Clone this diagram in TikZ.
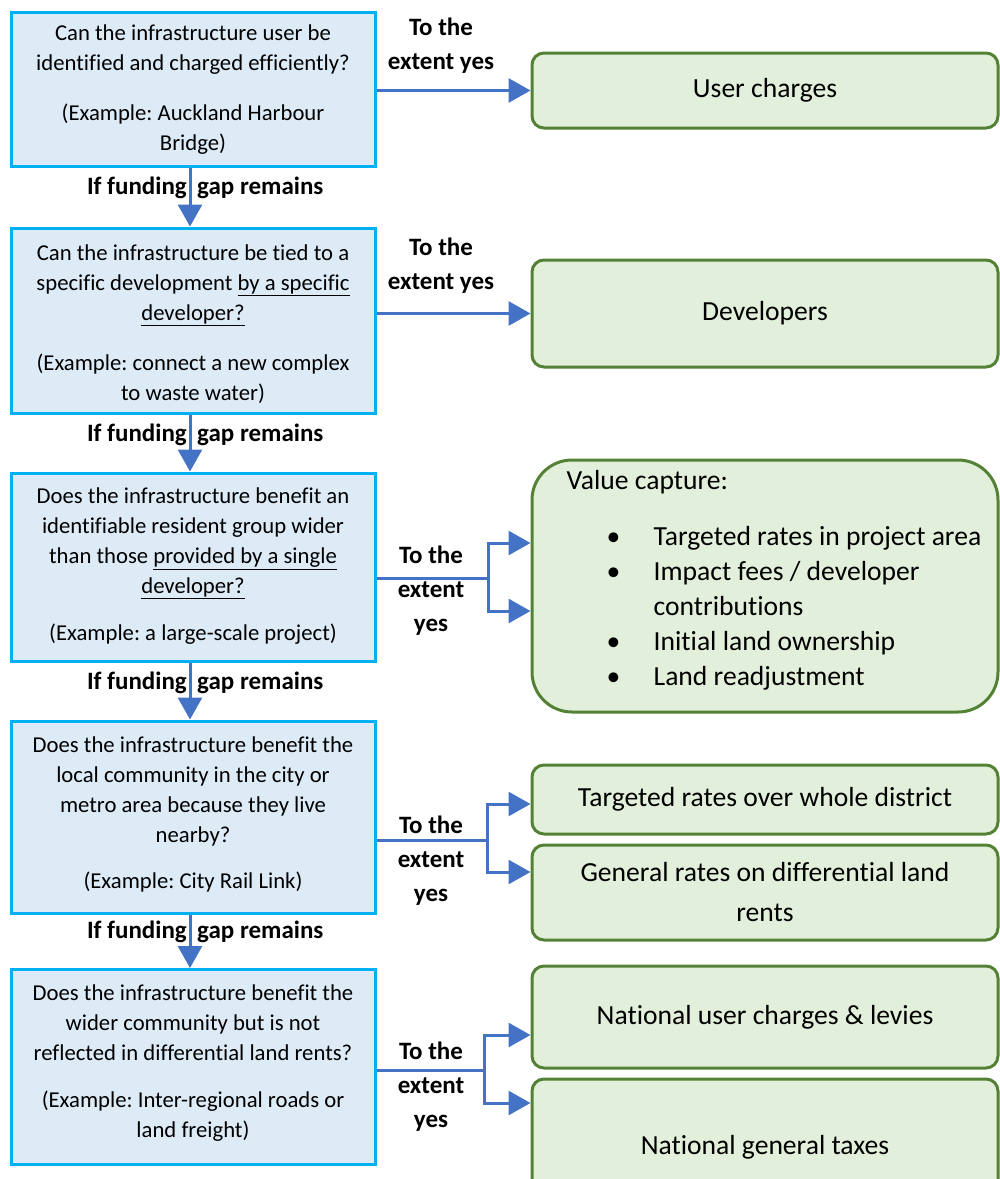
\documentclass[tikz,border=0pt]{standalone}
\usepackage{fontspec}
\setmainfont{Carlito}[Ligatures={NoCommon}]
\usetikzlibrary{arrows.meta}
\usetikzlibrary{positioning}
\frenchspacing

\definecolor{qblue}{HTML}{00B0F0}
\definecolor{qfill}{HTML}{DDEBF7}
\definecolor{agreen}{HTML}{538135}
\definecolor{afill}{HTML}{E2EFDA}
\definecolor{ablue}{HTML}{4472C4}

\newcommand\qfont{\fontsize{22.7}{30}\selectfont}
\newcommand\afont{\fontsize{27.6}{40}\selectfont}
\newcommand\vfont{\fontsize{27.6}{35}\selectfont}
\newcommand\lblfont{\bfseries\fontsize{25}{34}\selectfont}
\newcommand\vcitem[1]{\hspace*{40pt}\makebox[47pt][l]{\textbullet}#1}

\begin{document}
\begin{tikzpicture}[x=1pt,y=-1pt]
  \tikzset{qbox/.style={draw=qblue, fill=qfill, line width=3pt, minimum width=364pt, inner sep=0pt}}
  \tikzset{qtext/.style={align=center, font=\qfont, inner sep=0pt}}
  \tikzset{abox/.style={draw=agreen, fill=afill, line width=3pt, rounded corners=12pt, minimum width=466pt, align=center, font=\afont}}
  \tikzset{lbl/.style={align=center, font=\lblfont, inner sep=0pt}}
  \tikzset{line/.style={draw=ablue, line width=3pt}}
  \tikzset{arr/.style={draw=ablue, line width=3pt, -{Triangle[length=22pt,width=24pt]}}}

  \useasboundingbox (0,0) rectangle (1000,1179);

  % questions
  \node[qbox, minimum height=154pt] (q1) at (193,89) {};
  \node[qbox, minimum height=185pt] (q2) at (193,320.5) {};
  \node[qbox, minimum height=188pt] (q3) at (193,567) {};
  \node[qbox, minimum height=192pt] (q4) at (193,817) {};
  \node[qbox, minimum height=195pt] (q5) at (193,1067) {};

  \node[qtext, below=14pt of q1.north] (q1text) {Can the infrastructure user be\\
    identified and charged efficiently?\\[20pt]
    (Example: Auckland Harbour\\ Bridge)};
  \node[qtext, below=18pt of q2.north] (q2text) {Can the infrastructure be tied to a\\
    specific development \underline{by a specific}\\ \underline{developer?}\\[20pt]
    (Example: connect a new complex\\ to waste water)};
  \node[qtext, below=16pt of q3.north] (q3text) {Does the infrastructure benefit an\\
    identifiable resident group wider\\ than those \underline{provided by a single}\\
    \underline{developer?}\\[17pt]
    (Example: a large-scale project)};
  \node[qtext, below=17pt of q4.north] (q4text) {Does the infrastructure benefit the\\
    local community in the city or\\ metro area because they live\\ nearby?\\[16pt]
    (Example: City Rail Link)};
  \node[qtext, below=17pt of q5.north] (q5text) {Does the infrastructure benefit the\\
    wider community but is not\\ reflected in differential land rents?\\[17pt]
    (Example: Inter-regional roads or\\ land freight)};

  % answers
  \node[abox, minimum height=75pt] (r1) at (765,90.5) {User charges};
  \node[abox, minimum height=107pt] (r2) at (765,313.5) {Developers};
  \node[abox, minimum height=252pt, rounded corners=40pt] (r3) at (765,586) {};
  \node[align=left, font=\vfont, inner sep=0pt,
    below right=12pt and 36pt of r3.north west] (r3text) {Value capture:\\[21pt]
    \vcitem{Targeted rates in project area}\\
    \vcitem{Impact fees / developer}\\
    \hspace*{87pt}contributions\\
    \vcitem{Initial land ownership}\\
    \vcitem{Land readjustment}};
  \node[abox, minimum height=69pt] (r4a) at (765,799.5) {Targeted rates over whole district};
  \node[abox, minimum height=95pt] (r4b) at (765,892.5) {General rates on differential land\\ rents};
  \node[abox, minimum height=102pt] (r5a) at (765,1017) {National user charges \& levies};
  \node[abox, minimum height=136pt] (r5b) at (765,1147) {National general taxes};

  % down the chain
  \foreach \a/\b in {q1/q2,q2/q3,q3/q4,q4/q5}{
    \draw[arr] ([xshift=-3pt]\a.south) -- ([xshift=-3pt]\b.north);
  }
  \foreach \a/\y in {q1/194,q2/441,q3/689,q4/938}{
    \node[lbl, anchor=base east] (\a gapl) at (187,\y) {If funding};
    \node[lbl, anchor=base west] (\a gapr) at (197,\y) {gap remains};
  }

  % across
  \node[lbl] (y1) at (441,46) {To the\\ extent yes};
  \node[lbl] (y2) at (441,266) {To the\\ extent yes};
  \node[lbl] (y3) at (431,591) {To the\\ extent\\ yes};
  \node[lbl] (y4) at (431,861) {To the\\ extent\\ yes};
  \node[lbl] (y5) at (431,1087) {To the\\ extent\\ yes};

  \draw[arr] (q1.east |- r1.west) -- (r1.west);
  \draw[arr] (q2.east |- r2.west) -- (r2.west);

  \coordinate (f3) at (488,578);
  \coordinate (f4) at (487,840);
  \coordinate (f5) at (484,1070);
  \draw[line] (q3.east |- f3) -- (f3);
  \draw[arr] (f3) |- (r3.west |- 0,543);
  \draw[arr] (f3) |- (r3.west |- 0,611);
  \draw[line] (q4.east |- f4) -- (f4);
  \draw[arr] (f4) |- (r4a.west |- 0,804);
  \draw[arr] (f4) |- (r4b.west |- 0,872);
  \draw[line] (q5.east |- f5) -- (f5);
  \draw[arr] (f5) |- (r5a.west |- 0,1035);
  \draw[arr] (f5) |- (r5b.west |- 0,1103);
\end{tikzpicture}
\end{document}
